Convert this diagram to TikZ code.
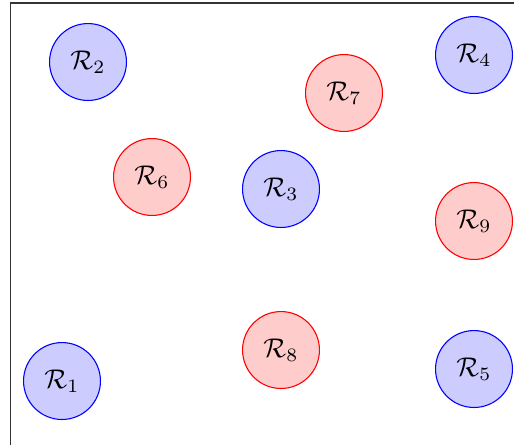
\documentclass[tikz,border=0pt]{standalone}
\begin{document}
\begin{tikzpicture}[x=0.013cm,y=-0.013cm,
  bluereg/.style={circle,draw=blue,fill=blue!20,minimum size=1cm,inner sep=0pt},
  redreg/.style={circle,draw=red,fill=red!20,minimum size=1cm,inner sep=0pt}]
\useasboundingbox (0,0) rectangle (514,445);
\coordinate (fb) at (10.5,445);
\coordinate (fc) at (10.5,3);
\coordinate (fr) at (514,3);
\draw[black!80] (fb) -- (fc) -- (fr);
\node[bluereg] (r1) at (62,381) {$\mathcal{R}_1$};
\node[bluereg] (r2) at (88,62) {$\mathcal{R}_2$};
\node[bluereg] (r3) at (281,189) {$\mathcal{R}_3$};
\node[bluereg] (r4) at (474,55) {$\mathcal{R}_4$};
\node[bluereg] (r5) at (474,369) {$\mathcal{R}_5$};
\node[redreg] (r6) at (152,177) {$\mathcal{R}_6$};
\node[redreg] (r7) at (344,93) {$\mathcal{R}_7$};
\node[redreg] (r8) at (281,350) {$\mathcal{R}_8$};
\node[redreg] (r9) at (474,221) {$\mathcal{R}_9$};
\end{tikzpicture}
\end{document}
